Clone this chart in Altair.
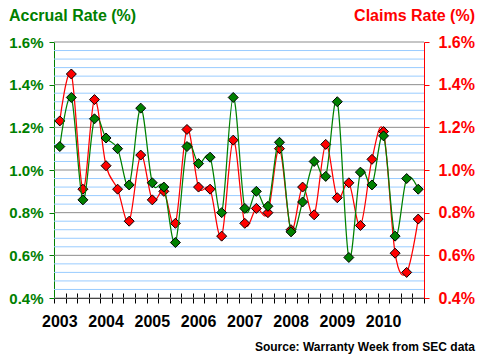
import altair as alt
import pandas as pd

# ---------------- data ----------------
YEARS = ["2003", "2004", "2005", "2006", "2007", "2008", "2009", "2010"]
QUARTER_NAMES = ["Q1", "Q2", "Q3", "Q4"]
QUARTERS = [f"{y} {q}" for y in YEARS for q in QUARTER_NAMES]

ACCRUAL = [1.11, 1.34, 0.86, 1.24,
           1.15, 1.10, 0.93, 1.29,
           0.94, 0.92, 0.66, 1.11,
           1.03, 1.06, 0.80, 1.34,
           0.82, 0.90, 0.83, 1.13,
           0.71, 0.85, 1.04, 0.97,
           1.32, 0.59, 0.99, 0.93,
           1.16, 0.69, 0.96, 0.91]

CLAIMS = [1.23, 1.45, 0.91, 1.33,
          1.02, 0.91, 0.76, 1.07,
          0.86, 0.90, 0.75, 1.19,
          0.92, 0.91, 0.69, 1.14,
          0.75, 0.82, 0.80, 1.10,
          0.72, 0.92, 0.79, 1.12,
          0.87, 0.94, 0.74, 1.05,
          1.18, 0.61, 0.52, 0.77]

MAJOR_TICKS = [0.4, 0.6, 0.8, 1.0, 1.2, 1.4, 1.6]
MINOR_TICKS = [0.44, 0.48, 0.52, 0.56, 0.64, 0.68, 0.72, 0.76,
               0.84, 0.88, 0.92, 0.96, 1.04, 1.08, 1.12, 1.16,
               1.24, 1.28, 1.32, 1.36, 1.44, 1.48, 1.52, 1.56]

LEFT_TITLE = "Accrual Rate (%)"
RIGHT_TITLE = "Claims Rate (%)"
SOURCE = "Source: Warranty Week from SEC data"

# ---------------- style ----------------
FONT = "Liberation Sans"
GREEN = "#008000"
RED = "#ff0000"
GRAY = "#8c8c8c"
LIGHT_BLUE = "#99ccff"

df = pd.DataFrame({"quarter": QUARTERS, "accrual": ACCRUAL, "claims": CLAIMS})
minor_df = pd.DataFrame({"v": MINOR_TICKS})
major_df = pd.DataFrame({"v": MAJOR_TICKS})


def yscale():
    return alt.Scale(domain=[0.4, 1.6], nice=False, zero=False)


xscale = alt.Scale(type="band", paddingInner=0, paddingOuter=0)

label_axis = alt.Axis(
    orient="bottom",
    title=None, domainColor="black", domainWidth=1, ticks=False, tickSize=0,
    labelExpr="indexof(datum.label, 'Q1') >= 0 ? slice(datum.label, 0, 4) : ''",
    labelFont=FONT, labelFontSize=16, labelFontWeight="bold", labelColor="black",
    labelPadding=15, labelAngle=0, labelOverlap=False, grid=False,
)
tick_axis = alt.Axis(
    orient="bottom",
    title=None, domain=False, labels=False, ticks=True, tickBand="extent",
    tickSize=10, tickColor="black", tickWidth=1, offset=-5, grid=False,
)

left_axis = alt.Axis(
    orient="left", values=MAJOR_TICKS, title=None, grid=False,
    labelExpr="format(datum.value, '.1f') + '%'",
    domainColor=GREEN, tickColor=GREEN, tickSize=5,
    labelColor=GREEN, labelFont=FONT, labelFontSize=15, labelFontWeight="bold",
    labelPadding=6,
)
right_axis = alt.Axis(
    orient="right", values=MAJOR_TICKS, title=None, grid=False,
    labelExpr="format(datum.value, '.1f') + '%'",
    domainColor=RED, tickColor=RED, tickSize=5,
    labelColor=RED, labelFont=FONT, labelFontSize=16, labelFontWeight="bold",
    labelPadding=9,
)

minor_grid = alt.Chart(minor_df).mark_rule(color=LIGHT_BLUE, strokeWidth=1).encode(
    y=alt.Y("v:Q", scale=yscale(), axis=None)
)
major_grid = alt.Chart(major_df).mark_rule(color=GRAY, strokeWidth=1).encode(
    y=alt.Y("v:Q", scale=yscale(), axis=None)
)

red_line = alt.Chart(df).mark_line(color=RED, strokeWidth=1.25, interpolate="cardinal").encode(
    x=alt.X("quarter:N", sort=QUARTERS, scale=xscale, bandPosition=0.5, axis=tick_axis),
    y=alt.Y("claims:Q", scale=yscale(), axis=right_axis),
)
red_pts = alt.Chart(df).mark_point(
    shape="diamond", size=100, filled=True, fill=RED, stroke="black", strokeWidth=1, opacity=1
).encode(
    x=alt.X("quarter:N", sort=QUARTERS, scale=xscale, bandPosition=0.5, axis=None),
    y=alt.Y("claims:Q", scale=yscale(), axis=None),
)
green_line = alt.Chart(df).mark_line(color=GREEN, strokeWidth=1.25, interpolate="cardinal").encode(
    x=alt.X("quarter:N", sort=QUARTERS, scale=xscale, bandPosition=0.5, axis=label_axis),
    y=alt.Y("accrual:Q", scale=yscale(), axis=left_axis),
)
green_pts = alt.Chart(df).mark_point(
    shape="diamond", size=100, filled=True, fill=GREEN, stroke="black", strokeWidth=1, opacity=1
).encode(
    x=alt.X("quarter:N", sort=QUARTERS, scale=xscale, bandPosition=0.5, axis=None),
    y=alt.Y("accrual:Q", scale=yscale(), axis=None),
)

left_title = alt.Chart(pd.DataFrame({"t": [LEFT_TITLE]})).mark_text(
    align="left", baseline="alphabetic", font=FONT, fontSize=16, fontWeight="bold", color=GREEN
).encode(x=alt.value(-45), y=alt.value(-21), text="t:N")
right_title = alt.Chart(pd.DataFrame({"t": [RIGHT_TITLE]})).mark_text(
    align="right", baseline="alphabetic", font=FONT, fontSize=16, fontWeight="bold", color=RED
).encode(x=alt.value(421), y=alt.value(-21), text="t:N")
source = alt.Chart(pd.DataFrame({"t": [SOURCE]})).mark_text(
    align="right", baseline="alphabetic", font=FONT, fontSize=12, fontWeight="bold", color="black"
).encode(x=alt.value(421), y=alt.value(309), text="t:N")

chart = alt.layer(
    minor_grid, major_grid, red_line, red_pts, green_line, green_pts,
    left_title, right_title, source,
).resolve_scale(y="independent").resolve_axis(x="independent", y="independent").properties(
    width=370, height=256,
    autosize=alt.AutoSizeParams(type="none"),
    padding={"left": 46, "top": 34, "right": 53, "bottom": 56},
    background="white",
).configure_view(stroke=None)

chart.save("out.html", embed_options={"renderer": "svg", "actions": False})
